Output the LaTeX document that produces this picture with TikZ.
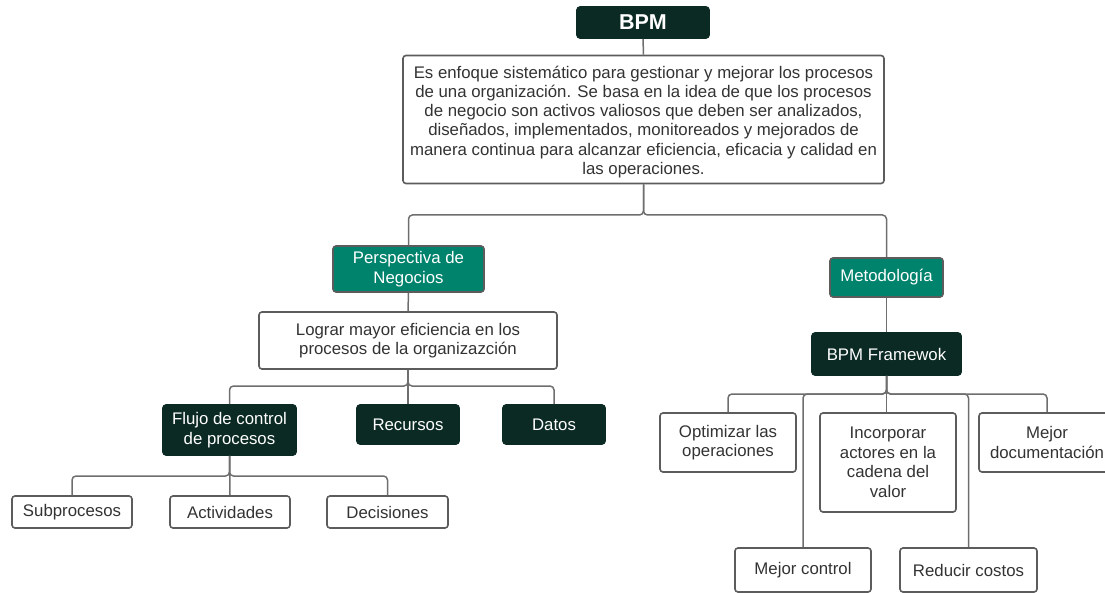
\documentclass[tikz,border=0pt]{standalone}
\usepackage{fontspec}
\setmainfont{Liberation Sans}
\begin{document}
\definecolor{darkgreen}{HTML}{0B2A23}
\definecolor{teal}{HTML}{00836D}
\definecolor{edge}{HTML}{5C5C5C}
\definecolor{wire}{HTML}{6E6E6E}
\definecolor{ink}{HTML}{333333}
\begin{tikzpicture}[x=1pt,y=-1pt,
  base/.style={rounded corners=3pt, line width=1.6pt, inner sep=0pt, align=center,
    font=\fontsize{16.8}{19.6}\selectfont},
  whitebox/.style={base, draw=edge, fill=white, text=ink},
  darkbox/.style={base, draw=darkgreen, fill=darkgreen, text=white},
  tealbox/.style={base, draw=edge, fill=teal, text=white},
  wirestyle/.style={draw=wire, line width=1.5pt, rounded corners=4pt}]
\useasboundingbox (0,0) rectangle (1105,593);
\clip (0,0) rectangle (1105,593);

% top of the tree
\node[darkbox, minimum width=132, minimum height=31, font=\bfseries\fontsize{21.5}{25}\selectfont] (bpm) at (643,22.5) {BPM};
\node[whitebox, minimum width=481, minimum height=128, font=\fontsize{16.8}{19.3}\selectfont] (desc) at (643.5,119.5)
  {\rule{0pt}{17pt}Es enfoque sistemático para gestionar y mejorar los procesos\\
   de una organización. Se basa en la idea de que los procesos\\
   de negocio son activos valiosos que deben ser analizados,\\
   diseñados, implementados, monitoreados y mejorados de\\
   manera continua para alcanzar eficiencia, eficacia y calidad en\\
   las operaciones.};

% left branch
\node[tealbox, minimum width=151, minimum height=46] (persp) at (408.5,269) {Perspectiva de\\Negocios};
\node[whitebox, minimum width=298, minimum height=57] (goal) at (408,340.5) {Lograr mayor eficiencia en los\\procesos de la organizazción};
\node[darkbox, minimum width=133, minimum height=50] (flujo) at (229.5,430) {Flujo de control\\de procesos};
\node[darkbox, minimum width=102, minimum height=39] (recursos) at (408,424.5) {Recursos};
\node[darkbox, minimum width=102, minimum height=39] (datos) at (554,424.5) {Datos};
\node[whitebox, minimum width=120, minimum height=32] (subp) at (72,512) {Subprocesos};
\node[whitebox, minimum width=120, minimum height=32] (activ) at (230,512) {Actividades};
\node[whitebox, minimum width=121, minimum height=32] (decis) at (387.5,512) {Decisiones};

% right branch
\node[tealbox, minimum width=113, minimum height=39] (metod) at (886.5,277.5) {Metodología};
\node[darkbox, minimum width=149, minimum height=42] (frame) at (886.5,354) {BPM Framewok};
\node[whitebox, minimum width=136, minimum height=59] (optim) at (728,442.5) {Optimizar las\\operaciones};
\node[whitebox, minimum width=136, minimum height=99] (incorp) at (888,462.5) {Incorporar\\actores en la\\cadena del\\valor};
\node[whitebox, minimum width=136, minimum height=59] (doc) at (1047,442.5) {Mejor\\documentación};
\node[whitebox, minimum width=136, minimum height=44] (ctrl) at (803,570) {Mejor control};
\node[whitebox, minimum width=137, minimum height=44] (costos) at (968.5,570) {Reducir costos};

% bus levels
\coordinate (busA) at (0,215);
\coordinate (busB) at (0,386);
\coordinate (busC) at (0,476);
\coordinate (busD) at (0,394);

% connectors
\draw[wirestyle] (bpm.south) -- (desc.north);
\draw[wirestyle] (desc.south) -- (desc.south |- busA) -| (persp.north);
\draw[wirestyle] (desc.south) -- (desc.south |- busA) -| (metod.north);
\draw[wirestyle] (persp.south) -- (goal.north);
\draw[wirestyle] (goal.south) -- (goal.south |- busB) -| (flujo.north);
\draw[wirestyle] (goal.south) -- (recursos.north);
\draw[wirestyle] (goal.south) -- (goal.south |- busB) -| (datos.north);
\draw[wirestyle] (flujo.south) -- (flujo.south |- busC) -| (subp.north);
\draw[wirestyle] (flujo.south) -- (activ.north);
\draw[wirestyle] (flujo.south) -- (flujo.south |- busC) -| (decis.north);
\draw[wirestyle] (metod.south) -- (frame.north);
\draw[wirestyle] (frame.south) -- (frame.south |- busD) -| (optim.north);
\draw[wirestyle] (frame.south) -- (frame.south |- incorp.north);
\draw[wirestyle] (frame.south) -- (frame.south |- busD) -| (doc.north);
\draw[wirestyle] (frame.south) -- (frame.south |- busD) -| (ctrl.north);
\draw[wirestyle] (frame.south) -- (frame.south |- busD) -| (costos.north);
\end{tikzpicture}
\end{document}
